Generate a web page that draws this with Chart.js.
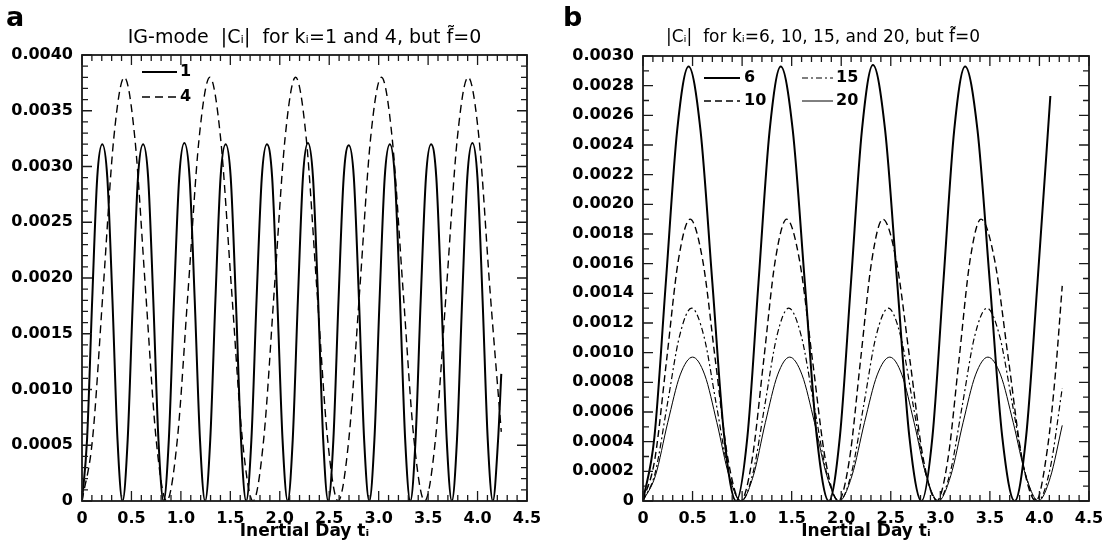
<!DOCTYPE html>
<html>
<head>
<meta charset="utf-8">
<script src="https://cdn.jsdelivr.net/npm/chart.js@4.4.0/dist/chart.umd.min.js"></script>
<style>
  html, body { margin: 0; padding: 0; background: #fff; }
  #wrap { display: flex; width: 1115px; height: 556px; }
  canvas { display: block; }
</style>
</head>
<body>
<div id="wrap">
  <canvas id="chartA" width="557" height="556"></canvas>
  <canvas id="chartB" width="558" height="556"></canvas>
</div>
<script>
// tick labels
const xTickLabels = ['0', '0.5', '1.0', '1.5', '2.0', '2.5', '3.0', '3.5', '4.0', '4.5'];
const yTickLabelsA = ['0', '0.0005', '0.0010', '0.0015', '0.0020', '0.0025', '0.0030', '0.0035', '0.0040'];
const yTickLabelsB = ['0', '0.0002', '0.0004', '0.0006', '0.0008', '0.0010', '0.0012', '0.0014',
  '0.0016', '0.0018', '0.0020', '0.0022', '0.0024', '0.0026', '0.0028', '0.0030'];

// panel a: k=1 (solid) and k=4 (dashed)
const tA1 = [0, 0.051, 0.103, 0.154, 0.205, 0.256, 0.308, 0.359, 0.41,
  0.462, 0.514, 0.566, 0.618, 0.669, 0.721, 0.773, 0.825,
  0.878, 0.930, 0.983, 1.035, 1.088, 1.140, 1.193, 1.245,
  1.297, 1.349, 1.401, 1.453, 1.504, 1.556, 1.608, 1.66,
  1.713, 1.765, 1.818, 1.870, 1.923, 1.975, 2.028, 2.08,
  2.131, 2.183, 2.234, 2.285, 2.336, 2.388, 2.439, 2.49,
  2.542, 2.594, 2.646, 2.698, 2.749, 2.801, 2.853, 2.905,
  2.957, 3.009, 3.061, 3.113, 3.164, 3.216, 3.268, 3.32,
  3.373, 3.425, 3.478, 3.530, 3.583, 3.635, 3.688, 3.74,
  3.792, 3.844, 3.896, 3.948, 3.999, 4.051, 4.103, 4.155,
  4.207, 4.24];
const cA1 = [0, 0.00055, 0.0018, 0.0029, 0.0032, 0.0029, 0.0018, 0.00055,
  0, 0.00055, 0.0018, 0.0029, 0.0032, 0.0029, 0.0018, 0.00055,
  0, 0.00055, 0.0018, 0.0029, 0.00321, 0.0029, 0.0018, 0.00055,
  0, 0.00055, 0.0018, 0.0029, 0.0032, 0.0029, 0.0018, 0.00055,
  0, 0.00055, 0.0018, 0.0029, 0.0032, 0.0029, 0.0018, 0.00055,
  0, 0.00055, 0.0018, 0.0029, 0.00321, 0.0029, 0.0018, 0.00055,
  0, 0.00055, 0.0018, 0.0029, 0.00319, 0.0029, 0.0018, 0.00055,
  0, 0.00055, 0.0018, 0.0029, 0.0032, 0.0029, 0.0018, 0.00055,
  0, 0.00055, 0.0018, 0.0029, 0.0032, 0.0029, 0.0018, 0.00055,
  0, 0.00055, 0.0018, 0.0029, 0.00321, 0.0029, 0.0018, 0.00055,
  0, 0.00054, 0.00114];
const tA4 = [0, 0.107, 0.214, 0.321, 0.428, 0.535, 0.642, 0.749, 0.856,
  0.965, 1.074, 1.184, 1.293, 1.402, 1.512, 1.621, 1.73,
  1.838, 1.945, 2.053, 2.16, 2.268, 2.375, 2.483, 2.59,
  2.699, 2.809, 2.918, 3.028, 3.137, 3.246, 3.356, 3.465,
  3.575, 3.685, 3.795, 3.905, 4.015, 4.125, 4.24];
const cA4 = [0, 0.00056, 0.0019, 0.00325, 0.0038, 0.00325, 0.0019, 0.00056,
  0, 0.00056, 0.0019, 0.00325, 0.0038, 0.00325, 0.0019, 0.00056,
  0, 0.00056, 0.0019, 0.00325, 0.0038, 0.00325, 0.0019, 0.00056,
  0, 0.00056, 0.0019, 0.00325, 0.0038, 0.00325, 0.0019, 0.00056,
  0, 0.00056, 0.0019, 0.00325, 0.0038, 0.00325, 0.0019, 0.00062];

// panel b: k=6, 10, 15, 20
const tB6 = [0, 0.115, 0.23, 0.345, 0.46, 0.58, 0.70, 0.82, 0.94,
  1.053, 1.165, 1.278, 1.39, 1.511, 1.633, 1.754, 1.875,
  1.986, 2.098, 2.209, 2.32, 2.443, 2.565, 2.688, 2.81,
  2.92, 3.03, 3.14, 3.25, 3.375, 3.5, 3.625, 3.75,
  3.865, 3.98, 4.11];
const cB6 = [0, 0.00043, 0.00147, 0.0025, 0.00293, 0.0025, 0.00147, 0.00043,
  0, 0.00043, 0.00147, 0.0025, 0.00293, 0.0025, 0.00147, 0.00043,
  0, 0.00043, 0.00147, 0.0025, 0.00294, 0.0025, 0.00147, 0.00043,
  0, 0.00043, 0.00147, 0.0025, 0.00293, 0.0025, 0.00147, 0.00043,
  0, 0.00043, 0.00147, 0.00273];
const tB10 = [0, 0.119, 0.238, 0.356, 0.475, 0.603, 0.73, 0.858, 0.985,
  1.101, 1.218, 1.334, 1.45, 1.58, 1.71, 1.84, 1.97,
  2.083, 2.195, 2.308, 2.42, 2.556, 2.693, 2.829, 2.965,
  3.076, 3.188, 3.299, 3.41, 3.549, 3.688, 3.826, 3.965,
  4.08, 4.16, 4.23];
const cB10 = [0, 0.00028, 0.00095, 0.00162, 0.0019, 0.00162, 0.00095, 0.00028,
  0, 0.00028, 0.00095, 0.00162, 0.0019, 0.00162, 0.00095, 0.00028,
  0, 0.00028, 0.00095, 0.00162, 0.0019, 0.00162, 0.00095, 0.00028,
  0, 0.00028, 0.00095, 0.00162, 0.0019, 0.00162, 0.00095, 0.00028,
  0, 0.00035, 0.00085, 0.00145];
const tB15 = [0, 0.123, 0.245, 0.368, 0.49, 0.615, 0.74, 0.865, 0.99,
  1.11, 1.23, 1.35, 1.47, 1.598, 1.725, 1.853, 1.98,
  2.104, 2.228, 2.351, 2.475, 2.6, 2.725, 2.85, 2.975,
  3.099, 3.223, 3.346, 3.47, 3.599, 3.728, 3.856, 3.985,
  4.108, 4.23];
const cB15 = [0, 0.00019, 0.00065, 0.00111, 0.0013, 0.00111, 0.00065, 0.00019,
  0, 0.00019, 0.00065, 0.00111, 0.0013, 0.00111, 0.00065, 0.00019,
  0, 0.00019, 0.00065, 0.00111, 0.0013, 0.00111, 0.00065, 0.00019,
  0, 0.00019, 0.00065, 0.00111, 0.0013, 0.00111, 0.00065, 0.00019,
  0, 0.00022, 0.00076];
const tB20 = [0, 0.125, 0.25, 0.375, 0.5, 0.623, 0.745, 0.868, 0.99,
  1.113, 1.235, 1.358, 1.48, 1.605, 1.73, 1.855, 1.98,
  2.108, 2.235, 2.363, 2.49, 2.613, 2.735, 2.858, 2.98,
  3.105, 3.23, 3.355, 3.48, 3.608, 3.735, 3.863, 3.99,
  4.11, 4.23];
const cB20 = [0, 0.00017, 0.00053, 0.00085, 0.00097, 0.00085, 0.00053, 0.00017,
  0, 0.00017, 0.00053, 0.00085, 0.00097, 0.00085, 0.00053, 0.00017,
  0, 0.00017, 0.00053, 0.00085, 0.00097, 0.00085, 0.00053, 0.00017,
  0, 0.00017, 0.00053, 0.00085, 0.00097, 0.00085, 0.00053, 0.00017,
  0, 0.00016, 0.00051];

Chart.defaults.font.family = "'DejaVu Sans', sans-serif";
Chart.defaults.color = '#000';

// box frame, inward ticks on all four sides, in-plot legend and panel letter
const framePlugin = {
  id: 'frame',
  afterDatasetsDraw(chart, args, opts) {
    const { ctx, chartArea: a, scales: { x, y } } = chart;
    ctx.save();
    ctx.strokeStyle = '#1a1a1a';
    ctx.lineWidth = 1.8;
    ctx.strokeRect(a.left, a.top, a.right - a.left, a.bottom - a.top);

    ctx.lineWidth = 1.3;
    ctx.beginPath();
    const nx = Math.round((x.max - x.min) / opts.xMinor);
    for (let i = 0; i <= nx; i++) {
      const px = x.getPixelForValue(x.min + i * opts.xMinor);
      const len = i % opts.xEvery === 0 ? 10 : 6;
      ctx.moveTo(px, a.bottom); ctx.lineTo(px, a.bottom - len);
      ctx.moveTo(px, a.top); ctx.lineTo(px, a.top + len);
    }
    const ny = Math.round((y.max - y.min) / opts.yMinor);
    for (let i = 0; i <= ny; i++) {
      const py = y.getPixelForValue(y.min + i * opts.yMinor);
      const len = i % opts.yEvery === 0 ? 10 : 6;
      ctx.moveTo(a.left, py); ctx.lineTo(a.left + len, py);
      ctx.moveTo(a.right, py); ctx.lineTo(a.right - len, py);
    }
    ctx.stroke();

    // legend drawn from the datasets themselves
    ctx.fillStyle = '#000';
    ctx.font = "bold 16px 'DejaVu Sans'";
    ctx.textBaseline = 'middle';
    chart.data.datasets.forEach(ds => {
      const p = ds.legendAt;
      ctx.lineWidth = ds.borderWidth;
      ctx.strokeStyle = '#000';
      ctx.setLineDash(ds.borderDash || []);
      ctx.beginPath();
      ctx.moveTo(p[0], p[3]); ctx.lineTo(p[1], p[3]);
      ctx.stroke();
      ctx.setLineDash([]);
      ctx.fillText(ds.label, p[2], p[3]);
    });

    ctx.font = "bold 27px 'DejaVu Sans'";
    ctx.textBaseline = 'alphabetic';
    ctx.fillText(opts.letter, 6, 26);
    ctx.restore();
  }
};

function makeSeries(label, t, c, width, dash, legendAt) {
  return {
    label: label,
    data: t.map((v, i) => ({ x: v, y: c[i] })),
    borderColor: '#000',
    borderWidth: width,
    borderDash: dash,
    pointRadius: 0,
    fill: false,
    cubicInterpolationMode: 'monotone',
    legendAt: legendAt,
  };
}

function makeChart(id, o) {
  return new Chart(document.getElementById(id), {
    type: 'line',
    data: { datasets: o.datasets },
    options: {
      responsive: false,
      animation: false,
      devicePixelRatio: 1,
      layout: { padding: { left: 0, right: o.padRight, top: 0, bottom: 0 } },
      plugins: {
        legend: { display: false },
        tooltip: { enabled: false },
        title: {
          display: true,
          text: o.title,
          fullSize: o.titleFull,
          color: '#000',
          font: { size: o.titleSize, weight: 'normal', lineHeight: '20px' },
          padding: { top: 28, bottom: o.titleBottom },
        },
        frame: { xMinor: 0.1, xEvery: 5, yMinor: o.yMinor, yEvery: o.yEvery, letter: o.letter },
      },
      scales: {
        x: {
          type: 'linear',
          min: 0,
          max: 4.5,
          afterFit: s => { s.height = 55; },
          afterBuildTicks: s => { s.ticks = xTickLabels.map(l => ({ value: parseFloat(l) })); },
          grid: { display: false, drawTicks: false },
          border: { display: false },
          ticks: { font: { size: 16, weight: 'bold' }, padding: 8, maxRotation: 0, autoSkip: false,
            callback: (v, i) => xTickLabels[i] },
          title: { display: true, text: 'Inertial Day tᵢ', font: { size: 17, weight: 'bold' },
            padding: { top: 0, bottom: 14 } },
        },
        y: {
          type: 'linear',
          min: 0,
          max: o.yMax,
          afterFit: s => { s.width = o.yWidth; },
          afterBuildTicks: s => { s.ticks = o.yLabels.map(l => ({ value: parseFloat(l) })); },
          grid: { display: false, drawTicks: false },
          border: { display: false },
          ticks: { font: { size: 16, weight: 'bold' }, padding: 9, autoSkip: false,
            callback: (v, i) => o.yLabels[i] },
        },
      },
    },
    plugins: [framePlugin],
  });
}

makeChart('chartA', {
  title: 'IG-mode  |Cᵢ|  for kᵢ=1 and 4, but f\u0303=0',
  titleSize: 19,
  titleFull: false,
  titleBottom: 7,
  padRight: 30,
  yWidth: 82,
  yMax: 0.004,
  yLabels: yTickLabelsA,
  yMinor: 0.0001,
  yEvery: 5,
  letter: 'a',
  datasets: [
    makeSeries('1', tA1, cA1, 2, [], [142, 177, 180, 72]),
    makeSeries('4', tA4, cA4, 1.4, [8, 5], [142, 177, 180, 97]),
  ],
});

// full-width title box: sits a little left of the plot centre, as in the figure
makeChart('chartB', {
  title: '|Cᵢ|  for kᵢ=6, 10, 15, and 20, but f\u0303=0',
  titleSize: 17,
  titleFull: true,
  titleBottom: 8,
  padRight: 26,
  yWidth: 86,
  yMax: 0.003,
  yLabels: yTickLabelsB,
  yMinor: 0.0001,
  yEvery: 2,
  letter: 'b',
  datasets: [
    makeSeries('6', tB6, cB6, 2, [], [147, 183, 187, 78]),
    makeSeries('10', tB10, cB10, 1.4, [7, 4], [147, 183, 187, 101]),
    makeSeries('15', tB15, cB15, 1.2, [6, 3, 2, 3], [245, 276, 279, 78]),
    makeSeries('20', tB20, cB20, 1, [], [245, 276, 279, 101]),
  ],
});
</script>
</body>
</html>
